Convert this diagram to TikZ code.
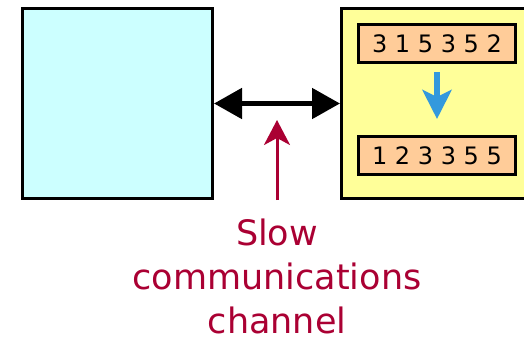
\documentclass[tikz,border=0pt]{standalone}
\usepackage{fontspec}
\setmainfont{DejaVu Sans}
\usetikzlibrary{arrows.meta}
\definecolor{cyanfill}{HTML}{CCFFFF}
\definecolor{yellowfill}{HTML}{FFFF99}
\definecolor{orangefill}{HTML}{FFCC99}
\definecolor{sortblue}{HTML}{3399DD}
\definecolor{slowred}{HTML}{AA0033}
\tikzset{
  machine/.style={draw=black, line width=3pt, inner sep=0pt, minimum height=190pt},
  databox/.style={draw=black, line width=3pt, fill=orangefill, inner sep=0pt,
    minimum width=157pt, minimum height=38pt, font=\fontsize{24}{28}\selectfont},
  channel/.style={line width=5pt, {Triangle[length=28pt,width=30pt]}-{Triangle[length=28pt,width=30pt]}},
  sortarrow/.style={draw=sortblue, line width=6pt, -{Stealth[length=29pt,width=29pt,inset=7pt]}},
  pointer/.style={draw=slowred, line width=3pt, -{Stealth[length=25pt,width=26pt,inset=7pt]}},
  caption/.style={text=slowred, align=center, inner sep=0pt, font=\fontsize{35}{44}\selectfont}
}
\begin{document}
\begin{tikzpicture}[x=1pt,y=-1pt]
\useasboundingbox (0,0) rectangle (524,337);
\begin{scope}
\clip (0,0) rectangle (524,337);
\node[machine, fill=cyanfill, minimum width=190pt] (left) at (117.5,103.5) {};
\node[machine, fill=yellowfill, minimum width=400pt] (right) at (541.5,103.5) {};
\node[databox] (unsorted) at (437,43.5) {3 1 5 3 5 2};
\node[databox] (sorted) at (437,155.5) {1 2 3 3 5 5};
\draw[sortarrow, shorten <=8pt, shorten >=16pt] (unsorted.south) -- (sorted.north);
\draw[channel] (left.east) -- (right.west);
\coordinate (from) at (277,200);
\coordinate (to) at (277,120);
\draw[pointer] (from) -- (to);
\end{scope}
\node[caption, anchor=base] (label) at (277,333) {Slow\\communications\\channel};
\end{tikzpicture}
\end{document}
